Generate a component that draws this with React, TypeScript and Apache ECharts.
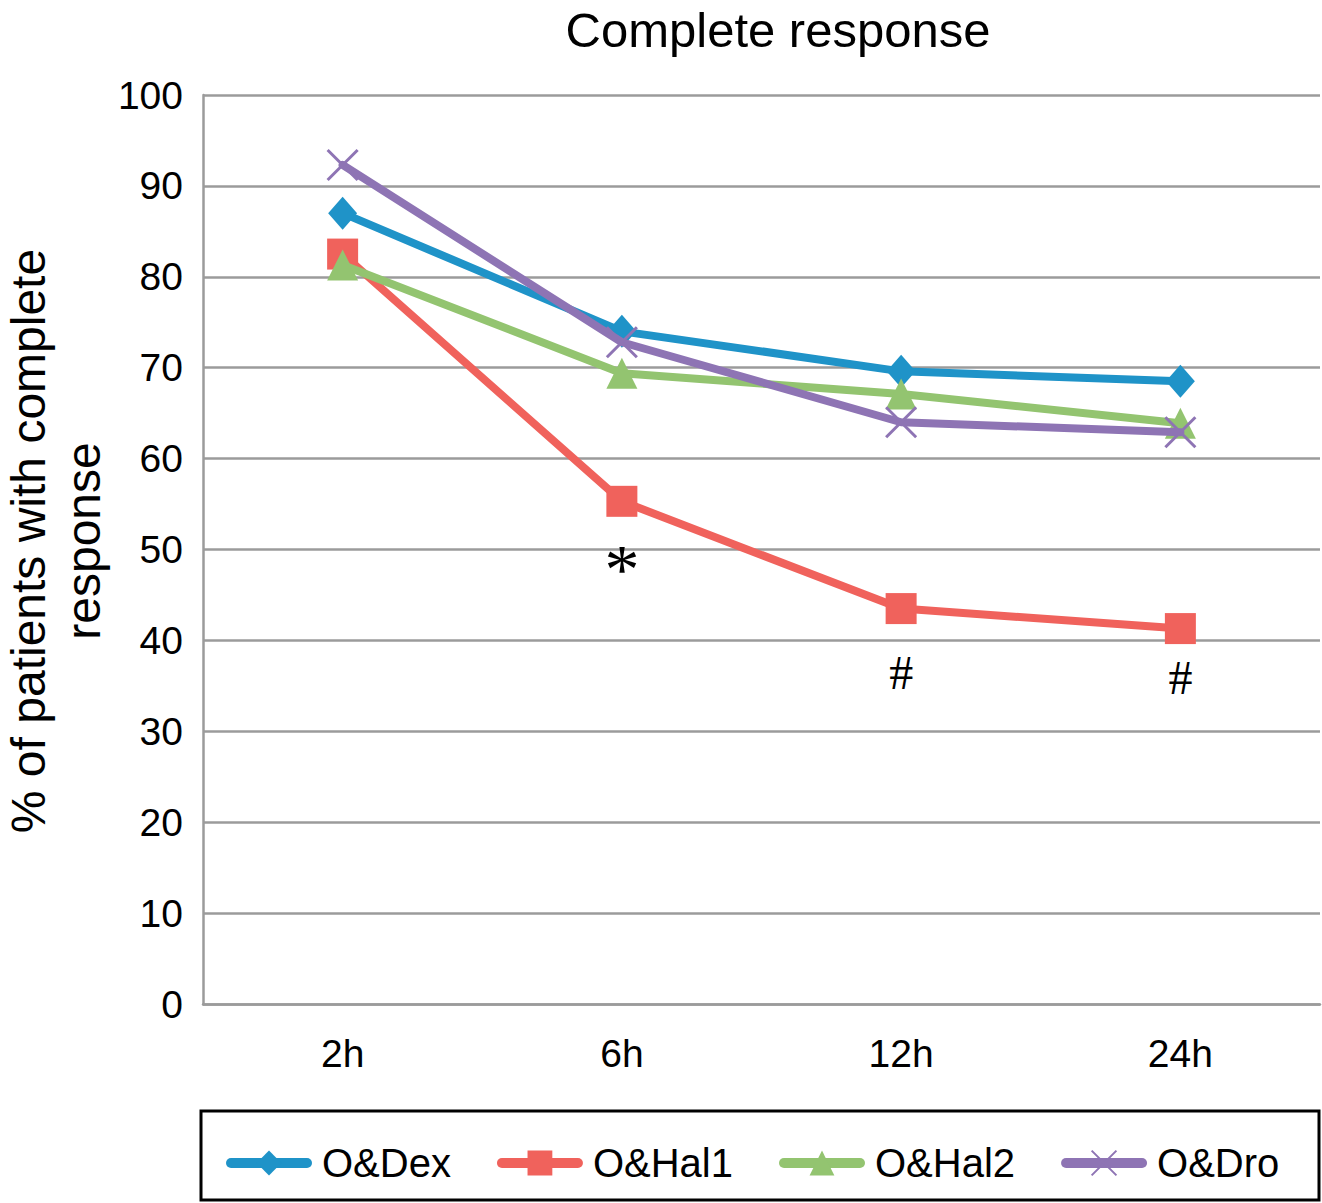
import React, { useEffect, useRef } from "react";
import * as echarts from "echarts";

const categories = ["2h", "6h", "12h", "24h"];
const seriesNames = ["O&Dex", "O&Hal1", "O&Hal2", "O&Dro"];
const dexValues = [87, 74, 69.6, 68.5];
const hal1Values = [82.5, 55.3, 43.5, 41.3];
const hal2Values = [81.3, 69.4, 67.1, 63.9];
const droValues = [92.3, 72.8, 64.0, 62.9];
const yTicks = { min: 0, max: 100, interval: 10 };
// significance marks: [category, value position, symbol]
const annotations: [string, number, string][] = [
  ["6h", 47.8, "*"],
  ["12h", 36.5, "#"],
  ["24h", 35.9, "#"],
];

const FONT = "'Liberation Sans', Arial, Helvetica, sans-serif";
const colors = ["#1f93c8", "#f0625c", "#93c470", "#8e74b4"];
const symbols = ["diamond", "rect", "triangle", "path://M0,0L10,10M10,0L0,10"];
const GRID = "#9b9b9b";

export default function App() {
  const ref = useRef<HTMLDivElement>(null);
  useEffect(() => {
    if (!ref.current) return;
    const chart = echarts.init(ref.current, null, { renderer: "svg" });
    const values = [dexValues, hal1Values, hal2Values, droValues];
    const series: any[] = seriesNames.map((name, i) => ({
      name,
      type: "line",
      data: values[i],
      symbol: symbols[i],
      symbolSize: i === 3 ? 30 : i === 0 ? [29, 33] : 31,
      lineStyle: { width: 8, color: colors[i], cap: "round", join: "round" },
      itemStyle:
        i === 3
          ? { color: colors[i], borderColor: colors[i], borderWidth: 3 }
          : { color: colors[i] },
      z: 2 + i,
    }));
    series[1].markPoint = {
      symbol: "circle",
      symbolSize: 1,
      itemStyle: { color: "transparent" },
      silent: true,
      label: {
        show: true,
        position: "inside",
        formatter: (p: any) => p.name,
        color: "#000",
        fontFamily: "'Liberation Serif', 'Times New Roman', serif",
        fontSize: 48,
      },
      data: annotations.map(([c, v, t]) => ({
        name: t,
        coord: [c, v],
        label: t === "*" ? { fontSize: 70 } : undefined,
      })),
    };
    chart.setOption({
      animation: false,
      backgroundColor: "#fff",
      textStyle: { fontFamily: FONT },
      title: {
        text: "Complete response",
        left: 773,
        top: 0,
        textAlign: "center",
        textStyle: { fontFamily: FONT, fontSize: 49, fontWeight: "normal", color: "#000" },
      },
      grid: { left: 203, top: 95, width: 1117, height: 909, outerBoundsMode: "none", containLabel: false },
      xAxis: {
        type: "category",
        data: categories,
        boundaryGap: true,
        axisLine: { show: true, lineStyle: { color: GRID, width: 2.5 } },
        axisTick: { show: false },
        axisLabel: { color: "#000", fontSize: 39, fontFamily: FONT, margin: 30 },
        splitLine: { show: false },
      },
      yAxis: {
        type: "value",
        min: yTicks.min,
        max: yTicks.max,
        interval: yTicks.interval,
        axisLine: { show: true, lineStyle: { color: GRID, width: 2.5 } },
        axisTick: { show: false },
        axisLabel: { color: "#000", fontSize: 39, fontFamily: FONT, margin: 20 },
        splitLine: { show: true, lineStyle: { color: GRID, width: 2.5 } },
      },
      legend: {
        data: seriesNames,
        left: 226,
        top: 1143,
        padding: 0,
        itemWidth: 76,
        itemHeight: 31,
        itemGap: 46,
        lineStyle: { width: 10, cap: "round" },
        textStyle: { fontSize: 40, fontFamily: FONT, color: "#000", padding: [0, 0, 0, 10] },
      },
      graphic: [
        {
          type: "rect",
          shape: { x: 201, y: 1111, width: 1118, height: 89 },
          style: { fill: "none", stroke: "#000", lineWidth: 3 },
          silent: true,
        },
        {
          type: "text",
          x: 56,
          y: 541,
          rotation: Math.PI / 2,
          style: {
            text: "% of patients with complete\nresponse",
            font: `48px ${FONT}`,
            lineHeight: 55,
            align: "center",
            verticalAlign: "middle",
            fill: "#000",
          },
        },
      ],
      series,
    });
    return () => chart.dispose();
  }, []);
  return (
    <div
      ref={ref}
      style={{ position: "fixed", left: 0, top: 0, width: 1322, height: 1203, background: "#fff" }}
    />
  );
}
